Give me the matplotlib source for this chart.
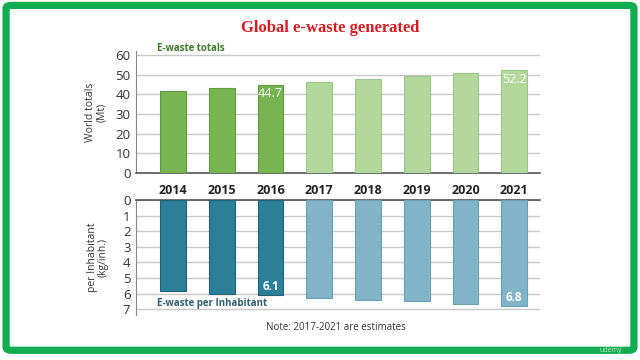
"""
Global e-waste generated: totals (top) and per inhabitant (bottom, inverted)
"""

import matplotlib
matplotlib.use("Agg")
import matplotlib.pyplot as plt
from matplotlib.patches import FancyBboxPatch

# data
years = ['2014', '2015', '2016', '2017', '2018', '2019', '2020', '2021']
totals_mt = [41.5, 43.0, 44.7, 46.4, 47.8, 49.3, 50.8, 52.2]
per_inhabitant = [5.85, 6.0, 6.1, 6.3, 6.4, 6.5, 6.7, 6.8]
is_estimate = [False, False, False, True, True, True, True, True]

labels_top = {2: '44.7', 7: '52.2'}
labels_bottom = {2: '6.1', 7: '6.8'}

GREEN_DARK, GREEN_LIGHT = '#76b552', '#b2d89c'
GREEN_EDGE_D, GREEN_EDGE_L = '#5e9c3e', '#9cc887'
TEAL_DARK, TEAL_LIGHT = '#2c7f99', '#80b4c6'
TEAL_EDGE_D, TEAL_EDGE_L = '#1e6378', '#6b9fb2'
GRID = '#c8c8c8'
TXT = '#333333'

plt.rcParams['font.family'] = ['Open Sans', 'DejaVu Sans']

fig = plt.figure(figsize=(6.4, 3.6), dpi=100)
fig.patch.set_facecolor('white')

x = list(range(len(years)))
xlim = (-0.76, 7.53)
bw = 0.53

# ---- top: world totals ----
ax1 = fig.add_axes([0.2125, 0.5194, 0.6313, 0.339])
ax1.bar(x, totals_mt, width=bw,
        color=[GREEN_LIGHT if e else GREEN_DARK for e in is_estimate],
        edgecolor=[GREEN_EDGE_L if e else GREEN_EDGE_D for e in is_estimate],
        linewidth=0.8, zorder=3)
ax1.set_xlim(*xlim)
ax1.set_ylim(0, 62)
ax1.set_yticks(range(0, 61, 10))
ax1.yaxis.grid(True, color=GRID, linewidth=1.0, zorder=0)
ax1.set_axisbelow(True)
for s in ['top', 'right']:
    ax1.spines[s].set_visible(False)
ax1.spines['left'].set_color('#888888')
ax1.spines['bottom'].set_color('#555555')
ax1.spines['bottom'].set_linewidth(1.2)
ax1.tick_params(axis='both', length=0, colors=TXT)
ax1.tick_params(axis='y', labelsize=9.5, pad=4)
ax1.set_xticks(x)
ax1.set_xticklabels(years, fontsize=9, fontweight='bold', color='#222222')
ax1.tick_params(axis='x', pad=8)
ax1.set_ylabel('World totals\n(Mt)', fontsize=7.5, color=TXT, linespacing=1.0,
               labelpad=6)
ax1.text(-0.33, 60.3, 'E-waste totals', fontsize=7, fontweight='bold',
         color='#3d7a2c', ha='left', va='bottom', zorder=4)
for i, t in labels_top.items():
    ax1.text(i, totals_mt[i] - 1.2, t, ha='center', va='top', fontsize=9,
             color='white', zorder=4)

# ---- bottom: per inhabitant (inverted) ----
ax2 = fig.add_axes([0.2125, 0.124, 0.6313, 0.3205])
ax2.bar(x, per_inhabitant, width=bw,
        color=[TEAL_LIGHT if e else TEAL_DARK for e in is_estimate],
        edgecolor=[TEAL_EDGE_L if e else TEAL_EDGE_D for e in is_estimate],
        linewidth=0.8, zorder=3)
ax2.set_xlim(*xlim)
ax2.set_ylim(7.4, 0)
ax2.set_yticks(range(0, 8))
ax2.yaxis.grid(True, color=GRID, linewidth=1.0, zorder=0)
ax2.set_axisbelow(True)
for s in ['bottom', 'right']:
    ax2.spines[s].set_visible(False)
ax2.spines['left'].set_color('#888888')
ax2.spines['top'].set_color('#555555')
ax2.spines['top'].set_linewidth(1.2)
ax2.set_xticks([])
ax2.tick_params(axis='y', length=0, colors=TXT, labelsize=9.5, pad=4)
ax2.set_ylabel('per Inhabitant\n(kg/inh.)', fontsize=7.5, color=TXT,
               linespacing=1.0, labelpad=10)
ax2.text(-0.33, 6.97, 'E-waste per Inhabitant', fontsize=7, fontweight='bold',
         color='#2d5f72', ha='left', va='bottom', zorder=4)
for i, t in labels_bottom.items():
    ax2.text(i, per_inhabitant[i] - 0.12, t, ha='center', va='bottom',
             fontsize=8.5, fontweight='bold', color='white', zorder=4)

# ---- title, note, frame ----
fig.text(0.516, 0.922, 'Global e-waste generated', ha='center', va='center',
         fontsize=12, fontweight='bold', color='#d71920',
         family='Liberation Serif')
fig.text(0.525, 0.089, 'Note: 2017-2021 are estimates', ha='center',
         va='center', fontsize=7, color=TXT)

frame = FancyBboxPatch((0.0095, 0.027), 0.981, 0.958,
                       boxstyle='round,pad=0,rounding_size=0.008',
                       transform=fig.transFigure, fill=False,
                       edgecolor='#12ad50', linewidth=5.2, zorder=10)
fig.patches.append(frame)
fig.text(0.955, 0.025, 'udemy', ha='center', va='center', fontsize=5,
         color='#bfe8cc', zorder=11)

plt.savefig('out.png', dpi=100)
plt.close()
